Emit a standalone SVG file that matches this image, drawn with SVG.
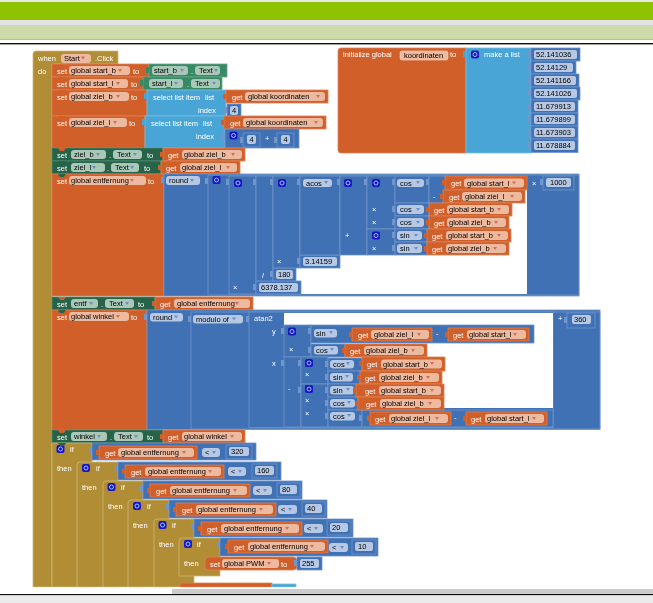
<svg xmlns="http://www.w3.org/2000/svg" xmlns:xlink="http://www.w3.org/1999/xlink" width="653" height="603" viewBox="0 0 653 603">
<style>
text{font-family:"Liberation Sans",Arial,sans-serif;font-size:7.5px}
.w{fill:#fff}
.d{fill:#000}
.o{fill:#D05F2C;stroke:#DE8052;stroke-width:.8}
.g{fill:#398A66;stroke:#64A587;stroke-width:.8}
.h{fill:#26634A;stroke:#4F8A70;stroke-width:.8}
.b{fill:#3F71B5;stroke:#7096CB;stroke-width:.8}
.l{fill:#49A5D5;stroke:#7CBDE0;stroke-width:.8}
.t{fill:#B18E35;stroke:#CDB878;stroke-width:.8}
.po{fill:#EDB99F}
.pg{fill:#A9C8B8}
.pb{fill:#B6C8E3}
</style>
<defs>
<filter id="soft" filterUnits="userSpaceOnUse" x="0" y="0" width="653" height="603"><feGaussianBlur stdDeviation="0.3"/></filter>
<path id="dd" d="M0 0h4l-2 3z" fill="#D0705A"/>
<path id="de" d="M0 0h4l-2 3z" fill="#6A8FC5"/>
<g id="mu"><rect x="-4" y="-4" width="8" height="8" rx="2" fill="#1818C4"/><circle r="2" fill="none" stroke="#9FC0F0"/></g>
<path id="ot" d="M0 4h-3v5h3z" fill="#D05F2C"/>
<rect id="bt" x="-3" y="3" width="3" height="6" fill="#7096CB"/>
<rect id="gt" x="-3" y="3" width="3" height="6" fill="#398A66"/>
<rect id="lt" x="-3" y="3" width="3" height="6" fill="#49A5D5"/>
<path id="no" d="M-4 0h8l-2 3h-4z" fill="#D05F2C"/>
<path id="ng" d="M-4 0h8l-2 3h-4z" fill="#26634A"/>
</defs>
<rect width="653" height="603" fill="#fff"/>
<g id="page-chrome">
<rect width="653" height="2" fill="#E8E8E8"/>
<rect y="2" width="653" height="18" fill="#8FC200"/>
<rect y="20" width="653" height="5" fill="#E2E2E2"/>
<rect y="25" width="653" height="14" fill="#CDDBAA"/>
<rect y="39" width="653" height="1" fill="#B5BFA0"/>
<rect y="43" width="653" height="1.4" fill="#111"/>
</g>
<g id="blocks" filter="url(#soft)">
<g id="init-global">
<path class="o" d="M341 48H466V153H341q-3 0-3-3V51q0-3 3-3z"/>
<text class="w" x="343" y="57">initialize global</text>
<rect class="po" x="400" y="51" width="48" height="9" rx="2" stroke="#F4D8C8" stroke-width=".6"/>
<text class="d" x="404" y="58">koordinaten</text>
<text class="w" x="450" y="57">to</text>
<rect class="l" x="466" y="48" width="65" height="105"/>
<use xlink:href="#lt" x="466" y="48"/>
<use xlink:href="#mu" x="475" y="54.500"/>
<text class="w" x="484" y="57">make a list</text>
</g>
<g id="list-values">
<g transform="translate(531,48)"><rect class="b" width="49" height="13"/><use xlink:href="#bt"/><rect class="pb" x="3" y="2" width="43" height="9" rx="2"/><text class="d" x="5" y="9">52.141036</text></g>
<g transform="translate(531,61)"><rect class="b" width="45" height="13"/><use xlink:href="#bt"/><rect class="pb" x="3" y="2" width="39" height="9" rx="2"/><text class="d" x="5" y="9">52.14129</text></g>
<g transform="translate(531,74)"><rect class="b" width="48" height="13"/><use xlink:href="#bt"/><rect class="pb" x="3" y="2" width="42" height="9" rx="2"/><text class="d" x="5" y="9">52.141166</text></g>
<g transform="translate(531,87)"><rect class="b" width="49" height="13"/><use xlink:href="#bt"/><rect class="pb" x="3" y="2" width="43" height="9" rx="2"/><text class="d" x="5" y="9">52.141026</text></g>
<g transform="translate(531,100)"><rect class="b" width="47" height="13"/><use xlink:href="#bt"/><rect class="pb" x="3" y="2" width="41" height="9" rx="2"/><text class="d" x="5" y="9">11.679913</text></g>
<g transform="translate(531,113)"><rect class="b" width="47" height="13"/><use xlink:href="#bt"/><rect class="pb" x="3" y="2" width="41" height="9" rx="2"/><text class="d" x="5" y="9">11.679899</text></g>
<g transform="translate(531,126)"><rect class="b" width="47" height="13"/><use xlink:href="#bt"/><rect class="pb" x="3" y="2" width="41" height="9" rx="2"/><text class="d" x="5" y="9">11.673903</text></g>
<g transform="translate(531,139)"><rect class="b" width="47" height="13.500"/><use xlink:href="#bt"/><rect class="pb" x="3" y="2" width="41" height="9" rx="2"/><text class="d" x="5" y="9">11.678884</text></g>
</g>

<g id="when-start-click">
<path class="t" d="M36 51H118V64H52V587H33V54q0-3 3-3z"/>
<text class="w" x="38" y="60.500">when</text>
<rect class="po" x="61" y="54" width="30" height="9" rx="3"/>
<text class="d" x="64" y="61">Start</text>
<use xlink:href="#dd" x="81" y="56.500"/>
<text class="w" x="95" y="60.500">.Click</text>
<text class="w" x="38" y="73.500">do</text>
</g>

<g id="set-start-b">
<rect class="o" x="52" y="64" width="97" height="13"/>
<text class="w" x="57" y="73.500">set</text><rect class="po" x="69" y="66" width="61" height="9" rx="3"/><text class="d" x="71" y="73">global start_b</text><use xlink:href="#dd" x="118" y="69"/><text class="w" x="133" y="73.500">to</text>
<rect class="g" x="149" y="64" width="78" height="13"/><use xlink:href="#gt" x="149" y="64"/><rect class="pg" x="152" y="66" width="36" height="9" rx="3"/><text class="d" x="154" y="73">start_b</text><use xlink:href="#de" x="180" y="69"/><text class="w" x="191" y="73.500">.</text><rect class="pg" x="195" y="66" width="25" height="9" rx="3"/><text class="d" x="199" y="73">Text</text><use xlink:href="#de" x="214" y="69"/>
</g>
<g id="set-start-l">
<rect class="o" x="52" y="77" width="91" height="13"/>
<text class="w" x="57" y="86.500">set</text><rect class="po" x="69" y="79" width="59" height="9" rx="3"/><text class="d" x="71" y="86">global start_l</text><use xlink:href="#dd" x="116" y="82"/><text class="w" x="131" y="86.500">to</text>
<rect class="g" x="143" y="77" width="79" height="13"/><use xlink:href="#gt" x="143" y="77"/><rect class="pg" x="149" y="79" width="34" height="9" rx="3"/><text class="d" x="152" y="86">start_l</text><use xlink:href="#de" x="174" y="82"/><text class="w" x="187" y="86.500">.</text><rect class="pg" x="191" y="79" width="29" height="9" rx="3"/><text class="d" x="195" y="86">Text</text><use xlink:href="#de" x="212" y="82"/>
</g>
<g id="set-ziel-b">
<rect class="o" x="52" y="90" width="95" height="26"/>
<text class="w" x="57" y="99.500">set</text><rect class="po" x="69" y="92" width="60" height="9" rx="3"/><text class="d" x="71" y="99">global ziel_b</text><use xlink:href="#dd" x="116" y="95"/><text class="w" x="131" y="99.500">to</text>
<rect class="l" x="147" y="90" width="79" height="26"/><use xlink:href="#lt" x="147" y="90"/>
<text class="w" x="153" y="99.500">select list item</text><text class="w" x="205" y="99.500">list</text><text class="w" x="198" y="112.500">index</text>
</g>
<g id="get-koord-1" transform="translate(226,90)"><rect class="o" width="102" height="13"/><use xlink:href="#ot"/><text class="w" x="6" y="9.500">get</text><rect class="po" x="19" y="2" width="80" height="9" rx="3"/><text class="d" x="22" y="9">global koordinaten</text><use xlink:href="#dd" x="90" y="5"/></g>
<g id="num-4a" transform="translate(227,104)"><rect class="b" width="14" height="12.500"/><use xlink:href="#bt"/><rect class="pb" x="3" y="2" width="8" height="9" rx="2"/><text class="d" x="5" y="9">4</text></g>
<g id="set-ziel-l">
<rect class="o" x="52" y="116" width="93" height="32"/>
<text class="w" x="57" y="125.500">set</text><rect class="po" x="69" y="118" width="58" height="9" rx="3"/><text class="d" x="71" y="125">global ziel_l</text><use xlink:href="#dd" x="113" y="121"/><text class="w" x="129" y="125.500">to</text>
<rect class="l" x="145" y="116" width="80" height="32"/><use xlink:href="#lt" x="145" y="116"/>
<text class="w" x="151" y="125.500">select list item</text><text class="w" x="203" y="125.500">list</text><text class="w" x="196" y="138.500">index</text>
</g>
<g id="get-koord-2" transform="translate(224,116)"><rect class="o" width="102" height="13"/><use xlink:href="#ot"/><text class="w" x="6" y="9.500">get</text><rect class="po" x="19" y="2" width="80" height="9" rx="3"/><text class="d" x="22" y="9">global koordinaten</text><use xlink:href="#dd" x="90" y="5"/></g>
<g id="math-4-4">
<rect class="b" x="225" y="129" width="74" height="19"/><use xlink:href="#bt" x="225" y="130"/>
<use xlink:href="#mu" x="233.500" y="135.500"/>
<rect class="b" x="243" y="133" width="17" height="14"/><use xlink:href="#bt" x="243" y="134"/><rect class="pb" x="247" y="135" width="9" height="9" rx="2"/><text class="d" x="249.500" y="142">4</text>
<text class="w" x="265" y="141">+</text>
<rect class="b" x="277" y="133" width="17" height="14"/><use xlink:href="#bt" x="277" y="134"/><rect class="pb" x="281" y="135" width="9" height="9" rx="2"/><text class="d" x="283.500" y="142">4</text>
</g>
<g id="set-text-ziel-b">
<rect class="h" x="52" y="148" width="111" height="13"/>
<text class="w" x="57" y="157.500">set</text><rect class="pg" x="71" y="150" width="35" height="9" rx="3"/><text class="d" x="74" y="157">ziel_b</text><use xlink:href="#de" x="96" y="153"/><text class="w" x="109" y="157.500">.</text><rect class="pg" x="113" y="150" width="29" height="9" rx="3"/><text class="d" x="117" y="157">Text</text><use xlink:href="#de" x="133" y="153"/><text class="w" x="147" y="157.500">to</text>
</g>
<g id="get-ziel-b-1" transform="translate(163,148)"><rect class="o" width="82" height="13"/><use xlink:href="#ot"/><text class="w" x="5" y="9.500">get</text><rect class="po" x="19" y="2" width="60" height="9" rx="3"/><text class="d" x="21" y="9">global ziel_b</text><use xlink:href="#dd" x="68" y="5"/></g>
<g id="set-text-ziel-l">
<rect class="h" x="52" y="161" width="109" height="13"/>
<text class="w" x="57" y="170.500">set</text><rect class="pg" x="71" y="163" width="34" height="9" rx="3"/><text class="d" x="74" y="170">ziel_l</text><use xlink:href="#de" x="92" y="166"/><text class="w" x="107" y="170.500">.</text><rect class="pg" x="111" y="163" width="28" height="9" rx="3"/><text class="d" x="115" y="170">Text</text><use xlink:href="#de" x="130" y="166"/><text class="w" x="144" y="170.500">to</text>
</g>
<g id="get-ziel-l-1" transform="translate(161,161)"><rect class="o" width="79" height="13"/><use xlink:href="#ot"/><text class="w" x="5" y="9.500">get</text><rect class="po" x="19" y="2" width="57" height="9" rx="3"/><text class="d" x="21" y="9">global ziel_l</text><use xlink:href="#dd" x="65" y="5"/></g>

<g id="set-entfernung">
<rect class="o" x="52" y="174" width="112" height="122"/>
<text class="w" x="57" y="183.500">set</text><rect class="po" x="69" y="176" width="77" height="9" rx="3"/><text class="d" x="71" y="183">global entfernung</text><use xlink:href="#dd" x="130" y="179"/><text class="w" x="148" y="183.500">to</text>
</g>
<g id="round-entfernung">
<rect class="b" x="164" y="174" width="415" height="122"/><use xlink:href="#bt" x="164" y="174"/>
<rect class="pb" x="166" y="176" width="34" height="9" rx="3"/><text class="d" x="169" y="183">round</text><use xlink:href="#de" x="190" y="179"/>
<rect class="b" x="208" y="175" width="371" height="120"/><use xlink:href="#bt" x="208" y="175"/>
<use xlink:href="#mu" x="216.500" y="180"/>
<rect x="229" y="176" width="298" height="118" fill="#fff"/>
<rect class="b" x="229" y="176" width="27" height="118"/><use xlink:href="#mu" x="238" y="183"/><text class="w" x="233" y="290">×</text>
<rect class="b" x="256" y="281" width="45" height="13"/><rect class="pb" x="259" y="283" width="39" height="9" rx="2"/><text class="d" x="261" y="290">6378.137</text>
<rect class="b" x="256" y="176" width="17" height="105"/><text class="w" x="262" y="278">/</text>
<rect class="b" x="273" y="268" width="23" height="13"/><rect class="pb" x="276" y="270" width="17" height="9" rx="2"/><text class="d" x="278" y="277">180</text>
<rect class="b" x="273" y="176" width="27" height="92"/><use xlink:href="#mu" x="282" y="183"/><text class="w" x="277" y="264">×</text>
<rect class="b" x="300" y="255" width="40" height="13"/><rect class="pb" x="303" y="257" width="34" height="9" rx="2"/><text class="d" x="305" y="264">3.14159</text>
<rect class="b" x="300" y="176" width="40" height="79"/><rect class="pb" x="303" y="179" width="29" height="8" rx="3"/><text class="d" x="306" y="186">acos</text><use xlink:href="#de" x="324" y="181"/>
<rect class="b" x="340" y="176" width="27" height="79"/><use xlink:href="#mu" x="348" y="183"/><text class="w" x="345" y="237.500">+</text>
<rect class="b" x="367" y="176" width="28" height="53"/><use xlink:href="#mu" x="376" y="183"/><text class="w" x="372" y="211.500">×</text><text class="w" x="372" y="224.500">×</text>
<rect class="b" x="367" y="229" width="28" height="26"/><use xlink:href="#mu" x="376" y="235.500"/><text class="w" x="372" y="250.500">×</text>
<rect class="b" x="395" y="176" width="34" height="27"/><rect class="pb" x="397" y="179" width="27" height="8" rx="3"/><text class="d" x="400" y="186">cos</text><use xlink:href="#de" x="416" y="181"/>
<rect class="b" x="429" y="176" width="17" height="27"/><text class="w" x="433" y="199">-</text>
<rect class="b" x="395" y="203" width="34" height="13"/><rect class="pb" x="397" y="205" width="27" height="9" rx="3"/><text class="d" x="400" y="212">cos</text><use xlink:href="#de" x="416" y="208"/>
<rect class="b" x="395" y="216" width="34" height="13"/><rect class="pb" x="397" y="218" width="27" height="9" rx="3"/><text class="d" x="400" y="225">cos</text><use xlink:href="#de" x="416" y="221"/>
<rect class="b" x="395" y="229" width="32" height="13"/><rect class="pb" x="397" y="231" width="25" height="9" rx="3"/><text class="d" x="400" y="238">sin</text><use xlink:href="#de" x="414" y="234"/>
<rect class="b" x="395" y="242" width="32" height="13"/><rect class="pb" x="397" y="244" width="25" height="9" rx="3"/><text class="d" x="400" y="251">sin</text><use xlink:href="#de" x="414" y="247"/>
<text class="w" x="532" y="185.500">×</text>
<rect class="b" x="543" y="176" width="31" height="14"/><use xlink:href="#bt" x="543" y="176"/><rect class="pb" x="546" y="178" width="25" height="9" rx="2"/><text class="d" x="550" y="185">1000</text>
<use xlink:href="#bt" x="229" y="176"/><use xlink:href="#bt" x="256" y="176"/><use xlink:href="#bt" x="273" y="176"/><use xlink:href="#bt" x="300" y="176"/><use xlink:href="#bt" x="340" y="176"/><use xlink:href="#bt" x="367" y="176"/><use xlink:href="#bt" x="395" y="176"/><use xlink:href="#bt" x="429" y="176"/><use xlink:href="#bt" x="395" y="203"/><use xlink:href="#bt" x="395" y="216"/><use xlink:href="#bt" x="395" y="229"/><use xlink:href="#bt" x="395" y="242"/><use xlink:href="#bt" x="256" y="281"/><use xlink:href="#bt" x="273" y="268"/><use xlink:href="#bt" x="300" y="255"/>
</g>
<g id="get-start-l-1" transform="translate(445,176)"><rect class="o" width="82" height="14"/><use xlink:href="#ot"/><text class="w" x="6" y="9.500">get</text><rect class="po" x="19" y="2.500" width="60" height="9" rx="3"/><text class="d" x="22" y="9.500">global start_l</text><use xlink:href="#dd" x="67" y="5.500"/></g>
<g id="get-ziel-l-2" transform="translate(443,190)"><rect class="o" width="82" height="13"/><use xlink:href="#ot"/><text class="w" x="6" y="9.500">get</text><rect class="po" x="19" y="2" width="60" height="9" rx="3"/><text class="d" x="22" y="9">global ziel_l</text><use xlink:href="#dd" x="67" y="5"/></g>
<g id="get-start-b-1" transform="translate(429,203)"><rect class="o" width="83" height="13"/><use xlink:href="#ot"/><text class="w" x="5" y="9.500">get</text><rect class="po" x="18" y="2" width="62" height="9" rx="3"/><text class="d" x="20" y="9">global start_b</text><use xlink:href="#dd" x="68" y="5"/></g>
<g id="get-ziel-b-2" transform="translate(429,216)"><rect class="o" width="80" height="13"/><use xlink:href="#ot"/><text class="w" x="5" y="9.500">get</text><rect class="po" x="18" y="2" width="59" height="9" rx="3"/><text class="d" x="20" y="9">global ziel_b</text><use xlink:href="#dd" x="65" y="5"/></g>
<g id="get-start-b-2" transform="translate(427,229)"><rect class="o" width="84" height="13"/><use xlink:href="#ot"/><text class="w" x="5" y="9.500">get</text><rect class="po" x="19" y="2" width="62" height="9" rx="3"/><text class="d" x="21" y="9">global start_b</text><use xlink:href="#dd" x="70" y="5"/></g>
<g id="get-ziel-b-3" transform="translate(427,242)"><rect class="o" width="82" height="13"/><use xlink:href="#ot"/><text class="w" x="5" y="9.500">get</text><rect class="po" x="19" y="2" width="60" height="9" rx="3"/><text class="d" x="21" y="9">global ziel_b</text><use xlink:href="#dd" x="66" y="5"/></g>

<g id="set-text-entf">
<rect class="h" x="52" y="297" width="103" height="13"/>
<text class="w" x="57" y="306.500">set</text><rect class="pg" x="71" y="299" width="27" height="9" rx="3"/><text class="d" x="74" y="306">entf</text><use xlink:href="#de" x="89" y="302"/><text class="w" x="101" y="306.500">.</text><rect class="pg" x="105" y="299" width="29" height="9" rx="3"/><text class="d" x="109" y="306">Text</text><use xlink:href="#de" x="125" y="302"/><text class="w" x="138" y="306.500">to</text>
</g>
<g id="get-entfernung-1" transform="translate(155,297)"><rect class="o" width="98" height="13"/><use xlink:href="#ot"/><text class="w" x="5" y="9.500">get</text><rect class="po" x="19" y="2" width="76" height="9" rx="3"/><text class="d" x="22" y="9">global entfernung</text><use xlink:href="#dd" x="80" y="5"/></g>

<g id="set-winkel">
<rect class="o" x="52" y="310" width="95" height="120"/>
<text class="w" x="57" y="319.500">set</text><rect class="po" x="69" y="312" width="60" height="9" rx="3"/><text class="d" x="71" y="319">global winkel</text><use xlink:href="#dd" x="116" y="315"/><text class="w" x="131" y="319.500">to</text>
</g>
<g id="round-winkel">
<rect class="b" x="147" y="310" width="453" height="119.500"/><use xlink:href="#bt" x="147" y="311"/>
<rect class="pb" x="150" y="313" width="33" height="8.500" rx="3"/><text class="d" x="153" y="320">round</text><use xlink:href="#de" x="174" y="315.500"/>
<rect class="b" x="191" y="312" width="409" height="117"/><use xlink:href="#bt" x="191" y="313"/>
<rect class="pb" x="193" y="315" width="50" height="8.500" rx="3"/><text class="d" x="196" y="322">modulo of</text><use xlink:href="#de" x="232" y="317.500"/>
<rect class="b" x="249" y="312" width="304" height="115.500"/><use xlink:href="#bt" x="249" y="313"/>
<text class="w" x="254" y="321">atan2</text>
<rect x="284" y="313" width="269" height="95" fill="#fff"/>
<rect x="284" y="325" width="27" height="32" class="b"/><use xlink:href="#mu" x="292" y="331.500"/><text class="w" x="289" y="351.500">×</text>
<rect x="311" y="325" width="223" height="18" class="b"/><rect class="pb" x="314" y="329" width="23" height="8.500" rx="3"/><text class="d" x="316" y="336">sin</text><use xlink:href="#de" x="329" y="331"/><text class="w" x="436" y="336">-</text>
<rect x="311" y="344" width="34" height="13" class="b"/><rect class="pb" x="314" y="346" width="24" height="8.500" rx="3"/><text class="d" x="316" y="353">cos</text><use xlink:href="#de" x="330" y="348"/>
<rect x="284" y="357" width="17" height="70" class="b"/>
<rect x="301" y="357" width="27" height="27" class="b"/><use xlink:href="#mu" x="309" y="363"/><text class="w" x="305" y="377">×</text>
<rect x="301" y="384" width="27" height="43" class="b"/><use xlink:href="#mu" x="309" y="389"/><text class="w" x="305" y="403">×</text><text class="w" x="305" y="416">×</text>
<rect x="328" y="358" width="34" height="13" class="b"/><rect class="pb" x="330" y="360" width="24" height="8.500" rx="3"/><text class="d" x="333" y="367">cos</text><use xlink:href="#de" x="346" y="362"/>
<rect x="328" y="371" width="32" height="13" class="b"/><rect class="pb" x="330" y="373" width="23" height="8.500" rx="3"/><text class="d" x="333" y="380">sin</text><use xlink:href="#de" x="345" y="375"/>
<rect x="328" y="384" width="28" height="13" class="b"/><rect class="pb" x="330" y="386" width="24" height="8.500" rx="3"/><text class="d" x="333" y="393">sin</text><use xlink:href="#de" x="346" y="388"/>
<rect x="328" y="397" width="30" height="13" class="b"/><rect class="pb" x="330" y="399" width="25" height="8.500" rx="3"/><text class="d" x="333" y="406">cos</text><use xlink:href="#de" x="347" y="401"/>
<rect x="328" y="410" width="34" height="17" class="b"/><rect class="pb" x="330" y="412" width="25" height="8.500" rx="3"/><text class="d" x="333" y="419">cos</text><use xlink:href="#de" x="347" y="414"/>
<rect x="362" y="410" width="191" height="17" class="b"/><text class="w" x="454" y="420">-</text>
<text class="w" x="272" y="334">y</text><text class="w" x="272" y="365.500">x</text><text class="w" x="288" y="390.500">-</text>
<text class="w" x="558" y="321">+</text>
<rect class="b" x="567" y="313" width="28" height="15"/><use xlink:href="#bt" x="567" y="314"/><rect class="pb" x="572" y="315" width="19" height="9" rx="2"/><text class="d" x="574" y="322">360</text>
<use xlink:href="#bt" x="284" y="325"/><use xlink:href="#bt" x="311" y="325"/><use xlink:href="#bt" x="311" y="344"/><use xlink:href="#bt" x="284" y="357"/><use xlink:href="#bt" x="301" y="357"/><use xlink:href="#bt" x="328" y="358"/><use xlink:href="#bt" x="328" y="371"/><use xlink:href="#bt" x="328" y="384"/><use xlink:href="#bt" x="328" y="397"/><use xlink:href="#bt" x="328" y="410"/><use xlink:href="#bt" x="301" y="384"/><use xlink:href="#bt" x="362" y="412"/>
</g>
<g id="get-ziel-l-3" transform="translate(352,328)"><rect class="o" width="80" height="13"/><use xlink:href="#ot"/><text class="w" x="6" y="9.500">get</text><rect class="po" x="19" y="2" width="58" height="9" rx="3"/><text class="d" x="22" y="9">global ziel_l</text><use xlink:href="#dd" x="65" y="5"/></g>
<g id="get-start-l-2" transform="translate(448,328)"><rect class="o" width="81" height="13"/><use xlink:href="#ot"/><text class="w" x="5" y="9.500">get</text><rect class="po" x="19" y="2" width="59" height="9" rx="3"/><text class="d" x="21" y="9">global start_l</text><use xlink:href="#dd" x="65" y="5"/></g>
<g id="get-ziel-b-4" transform="translate(345,344)"><rect class="o" width="82" height="13"/><use xlink:href="#ot"/><text class="w" x="5" y="9.500">get</text><rect class="po" x="19" y="2" width="60" height="9" rx="3"/><text class="d" x="21" y="9">global ziel_b</text><use xlink:href="#dd" x="66" y="5"/></g>
<g id="get-start-b-3" transform="translate(362,357)"><rect class="o" width="83" height="14"/><use xlink:href="#ot"/><text class="w" x="5" y="9.500">get</text><rect class="po" x="19" y="2.500" width="61" height="9" rx="3"/><text class="d" x="21" y="9.500">global start_b</text><use xlink:href="#dd" x="68" y="5"/></g>
<g id="get-ziel-b-5" transform="translate(360,371)"><rect class="o" width="82" height="13"/><use xlink:href="#ot"/><text class="w" x="5" y="9.500">get</text><rect class="po" x="19" y="2" width="60" height="9" rx="3"/><text class="d" x="21" y="9">global ziel_b</text><use xlink:href="#dd" x="66" y="5"/></g>
<g id="get-start-b-4" transform="translate(356,384)"><rect class="o" width="88" height="13"/><use xlink:href="#ot"/><text class="w" x="9" y="9.500">get</text><rect class="po" x="23" y="2" width="62" height="9" rx="3"/><text class="d" x="25" y="9">global start_b</text><use xlink:href="#dd" x="74" y="5"/></g>
<g id="get-ziel-b-6" transform="translate(358,397)"><rect class="o" width="86" height="13"/><use xlink:href="#ot"/><text class="w" x="8" y="9.500">get</text><rect class="po" x="22" y="2" width="61" height="9" rx="3"/><text class="d" x="24" y="9">global ziel_b</text><use xlink:href="#dd" x="70" y="5"/></g>
<g id="get-ziel-l-4" transform="translate(370,412)"><rect class="o" width="81" height="13"/><use xlink:href="#ot"/><text class="w" x="5" y="9.500">get</text><rect class="po" x="19" y="2" width="59" height="9" rx="3"/><text class="d" x="21" y="9">global ziel_l</text><use xlink:href="#dd" x="65" y="5"/></g>
<g id="get-start-l-3" transform="translate(466,412)"><rect class="o" width="81" height="13"/><use xlink:href="#ot"/><text class="w" x="5" y="9.500">get</text><rect class="po" x="19" y="2" width="59" height="9" rx="3"/><text class="d" x="21" y="9">global start_l</text><use xlink:href="#dd" x="66" y="5"/></g>

<g id="set-text-winkel">
<rect class="h" x="52" y="430" width="111" height="13"/>
<text class="w" x="57" y="439.500">set</text><rect class="pg" x="71" y="432" width="36" height="9" rx="3"/><text class="d" x="74" y="439">winkel</text><use xlink:href="#de" x="97" y="435"/><text class="w" x="110" y="439.500">.</text><rect class="pg" x="114" y="432" width="29" height="9" rx="3"/><text class="d" x="118" y="439">Text</text><use xlink:href="#de" x="134" y="435"/><text class="w" x="147" y="439.500">to</text>
</g>
<g id="get-winkel" transform="translate(163,430)"><rect class="o" width="82" height="13"/><use xlink:href="#ot"/><text class="w" x="5" y="9.500">get</text><rect class="po" x="19" y="2" width="60" height="9" rx="3"/><text class="d" x="21" y="9">global winkel</text><use xlink:href="#dd" x="67" y="5"/></g>

<g id="if-320">
<path class="t" d="M52 443H92V587H52z"/>
<use xlink:href="#mu" x="60.500" y="449"/><text class="w" x="70" y="451.500">if</text><text class="w" x="57" y="470.500">then</text>
<rect class="b" x="92" y="443" width="164" height="17"/><use xlink:href="#bt" x="92" y="444"/>
<rect class="o" x="99" y="446" width="98" height="13"/><use xlink:href="#ot" x="99" y="446"/><text class="w" x="105" y="455.500">get</text><rect class="po" x="118" y="448" width="76" height="9" rx="3"/><text class="d" x="121" y="455">global entfernung</text><use xlink:href="#dd" x="182" y="451"/>
<rect class="pb" x="202" y="448" width="18" height="9" rx="3"/><text class="d" x="205" y="455">&lt;</text><use xlink:href="#de" x="212" y="451"/>
<rect class="b" x="226" y="445" width="26" height="14"/><rect class="pb" x="229" y="447" width="20" height="9" rx="2"/><text class="d" x="231" y="454">320</text>
</g>
<g id="if-160">
<path class="t" d="M80 462H118V587H77V465q0-3 3-3z"/>
<use xlink:href="#mu" x="86" y="468"/><text class="w" x="96" y="470.500">if</text><text class="w" x="82" y="490">then</text>
<rect class="b" x="118" y="462" width="163" height="18"/><use xlink:href="#bt" x="118" y="463"/>
<rect class="o" x="125" y="465" width="99" height="13"/><use xlink:href="#ot" x="125" y="465"/><text class="w" x="131" y="474.500">get</text><rect class="po" x="145" y="467" width="76" height="9" rx="3"/><text class="d" x="148" y="474">global entfernung</text><use xlink:href="#dd" x="208" y="470"/>
<rect class="pb" x="228" y="467" width="18" height="9" rx="3"/><text class="d" x="231" y="474">&lt;</text><use xlink:href="#de" x="238" y="470"/>
<rect class="b" x="252" y="464" width="25" height="14"/><rect class="pb" x="255" y="466" width="19" height="9" rx="2"/><text class="d" x="257" y="473">160</text>
</g>
<g id="if-80">
<path class="t" d="M106 481H143V587H103V484q0-3 3-3z"/>
<use xlink:href="#mu" x="111.500" y="487"/><text class="w" x="121" y="489.500">if</text><text class="w" x="108" y="509">then</text>
<rect class="b" x="143" y="481" width="159" height="18"/><use xlink:href="#bt" x="143" y="482"/>
<rect class="o" x="150" y="484" width="100" height="13"/><use xlink:href="#ot" x="150" y="484"/><text class="w" x="156" y="493.500">get</text><rect class="po" x="170" y="486" width="77" height="9" rx="3"/><text class="d" x="172" y="493">global entfernung</text><use xlink:href="#dd" x="233" y="489"/>
<rect class="pb" x="253" y="486" width="19" height="9" rx="3"/><text class="d" x="256" y="493">&lt;</text><use xlink:href="#de" x="263" y="489"/>
<rect class="b" x="277" y="483" width="23" height="14"/><rect class="pb" x="280" y="485" width="17" height="9" rx="2"/><text class="d" x="282" y="492">80</text>
</g>
<g id="if-40">
<path class="t" d="M131 500H169V587H128V503q0-3 3-3z"/>
<use xlink:href="#mu" x="137" y="506"/><text class="w" x="147" y="508.500">if</text><text class="w" x="133" y="528">then</text>
<rect class="b" x="169" y="500" width="158" height="18"/><use xlink:href="#bt" x="169" y="501"/>
<rect class="o" x="176" y="503" width="100" height="13"/><use xlink:href="#ot" x="176" y="503"/><text class="w" x="182" y="512.500">get</text><rect class="po" x="196" y="505" width="77" height="9" rx="3"/><text class="d" x="198" y="512">global entfernung</text><use xlink:href="#dd" x="259" y="508"/>
<rect class="pb" x="278" y="505" width="19" height="9" rx="3"/><text class="d" x="281" y="512">&lt;</text><use xlink:href="#de" x="288" y="508"/>
<rect class="b" x="302" y="502" width="23" height="14"/><rect class="pb" x="305" y="504" width="17" height="9" rx="2"/><text class="d" x="307" y="511">40</text>
</g>
<g id="if-20">
<path class="t" d="M157 519H194V587H154V522q0-3 3-3z"/>
<use xlink:href="#mu" x="162.500" y="525"/><text class="w" x="172" y="527.500">if</text><text class="w" x="159" y="547">then</text>
<rect class="b" x="194" y="519" width="159" height="18"/><use xlink:href="#bt" x="194" y="520"/>
<rect class="o" x="201" y="522" width="101" height="13"/><use xlink:href="#ot" x="201" y="522"/><text class="w" x="207" y="531.500">get</text><rect class="po" x="221" y="524" width="78" height="9" rx="3"/><text class="d" x="224" y="531">global entfernung</text><use xlink:href="#dd" x="285" y="527"/>
<rect class="pb" x="304" y="524" width="19" height="9" rx="3"/><text class="d" x="307" y="531">&lt;</text><use xlink:href="#de" x="314" y="527"/>
<rect class="b" x="327" y="521" width="24" height="14"/><rect class="pb" x="330" y="523" width="18" height="9" rx="2"/><text class="d" x="332" y="530">20</text>
</g>
<g id="if-10">
<path class="t" d="M182 538H220V576H179V541q0-3 3-3z"/>
<use xlink:href="#mu" x="188" y="544"/><text class="w" x="197" y="546.500">if</text><text class="w" x="184" y="565.500">then</text>
<rect class="b" x="220" y="538" width="158" height="18"/><use xlink:href="#bt" x="220" y="539"/>
<rect class="o" x="228" y="540" width="100" height="13"/><use xlink:href="#ot" x="228" y="540"/><text class="w" x="234" y="549.500">get</text><rect class="po" x="248" y="542" width="77" height="9" rx="3"/><text class="d" x="250" y="549">global entfernung</text><use xlink:href="#dd" x="310" y="545"/>
<rect class="pb" x="329" y="543" width="19" height="9" rx="3"/><text class="d" x="332" y="550">&lt;</text><use xlink:href="#de" x="340" y="546"/>
<rect class="b" x="352" y="540" width="24" height="14"/><rect class="pb" x="355" y="542" width="18" height="9" rx="2"/><text class="d" x="358" y="549">10</text>
</g>
<g id="set-pwm">
<rect class="o" x="205" y="557" width="92" height="13" rx="4"/>
<text class="w" x="210" y="566.500">set</text><rect class="po" x="222" y="559" width="57" height="9" rx="3"/><text class="d" x="224" y="566">global PWM</text><use xlink:href="#dd" x="267" y="562"/><text class="w" x="281" y="566.500">to</text>
<rect class="b" x="297" y="557" width="25" height="13"/><use xlink:href="#bt" x="297" y="557"/><rect class="pb" x="300" y="559" width="19" height="9" rx="2"/><text class="d" x="302" y="566">255</text>
</g>
<g id="next-set-cut">
<rect class="o" x="180" y="583" width="92" height="4"/>
<rect class="l" x="272" y="584" width="24" height="3"/>
</g>
<g id="statement-notches">
<use xlink:href="#no" x="62" y="77"/><use xlink:href="#no" x="62" y="90"/><use xlink:href="#no" x="62" y="116"/><use xlink:href="#no" x="62" y="148"/><use xlink:href="#ng" x="62" y="161"/><use xlink:href="#ng" x="62" y="174"/><use xlink:href="#no" x="62" y="297"/><use xlink:href="#ng" x="62" y="310"/><use xlink:href="#no" x="62" y="430"/><use xlink:href="#ng" x="62" y="443"/>
</g>
</g>
<g id="page-bottom">
<rect x="0" y="587.400" width="653" height="2" fill="#fff"/>
<rect x="172" y="589" width="481" height="5" fill="#CCCCCC"/>
<rect y="594" width="653" height="1.400" fill="#111"/>
<rect y="595.400" width="653" height="7.600" fill="#EBEBEB"/>
</g>
</svg>
